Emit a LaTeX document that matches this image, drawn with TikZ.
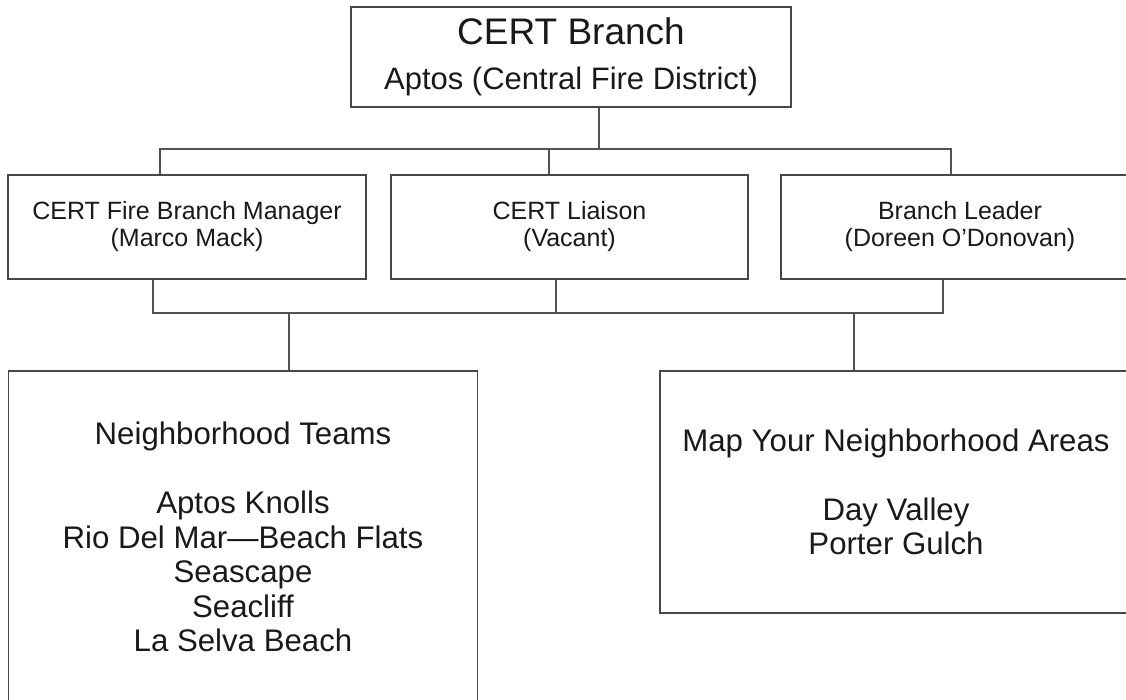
\documentclass[tikz,border=0pt]{standalone}
\usepackage{fontspec}
\setmainfont{Liberation Sans}
\begin{document}
\begin{tikzpicture}
  [x=1pt,y=-1pt,line width=1.2pt,
   box/.style={draw=black!72,inner sep=0pt,align=center,text=black!90},
   rolebox/.style={box,minimum width=358pt,minimum height=104pt,font=\fontsize{25}{27}\selectfont},
   areabox/.style={box,font=\fontsize{31.2}{34.5}\selectfont},
   wire/.style={draw=black!68}]
  \useasboundingbox (0,0) rectangle (1126,700);

  \node[box,minimum width=440pt,minimum height=100pt,font=\fontsize{31}{45}\selectfont] (top) at (571,57)
    {{\fontsize{37}{45}\selectfont CERT Branch}\\Aptos (Central Fire District)};

  \node[rolebox] (mgr)     at (187,227)   {CERT Fire Branch Manager\\(Marco Mack)};
  \node[rolebox,minimum width=357pt] (liaison) at (569.5,227) {CERT Liaison\\(Vacant)};
  \node[rolebox] (lead)    at (960,227)   {Branch Leader\\(Doreen O’Donovan)};

  \node[areabox,minimum width=469pt,minimum height=332pt] (teams) at (243,537)
    {Neighborhood Teams\\[34.5pt]Aptos Knolls\\Rio Del Mar—Beach Flats\\Seascape\\Seacliff\\La Selva Beach};
  \node[areabox,minimum width=472pt,minimum height=242pt] (areas) at (896,492)
    {Map Your Neighborhood Areas\\[34.5pt]Day Valley\\Porter Gulch};

  % buses
  \coordinate (tbus) at (599,149);
  \coordinate (bbus) at (0,313);

  \draw[wire] (top.south -| tbus) -- (tbus);
  \draw[wire] ([xshift=-27pt]mgr.north) |- (tbus) -| ([xshift=-9pt]lead.north);
  \draw[wire] ([xshift=-20.5pt]liaison.north) -- ([xshift=-20.5pt]liaison.north |- tbus);

  \draw[wire] ([xshift=-34pt]mgr.south) |- ([xshift=-17pt]lead.south |- bbus) -- ([xshift=-17pt]lead.south);
  \draw[wire] ([xshift=-13.5pt]liaison.south) -- ([xshift=-13.5pt]liaison.south |- bbus);
  \draw[wire] ([xshift=46pt]teams.north) -- ([xshift=46pt]teams.north |- bbus);
  \draw[wire] ([xshift=-42pt]areas.north) -- ([xshift=-42pt]areas.north |- bbus);

\end{tikzpicture}
\end{document}
